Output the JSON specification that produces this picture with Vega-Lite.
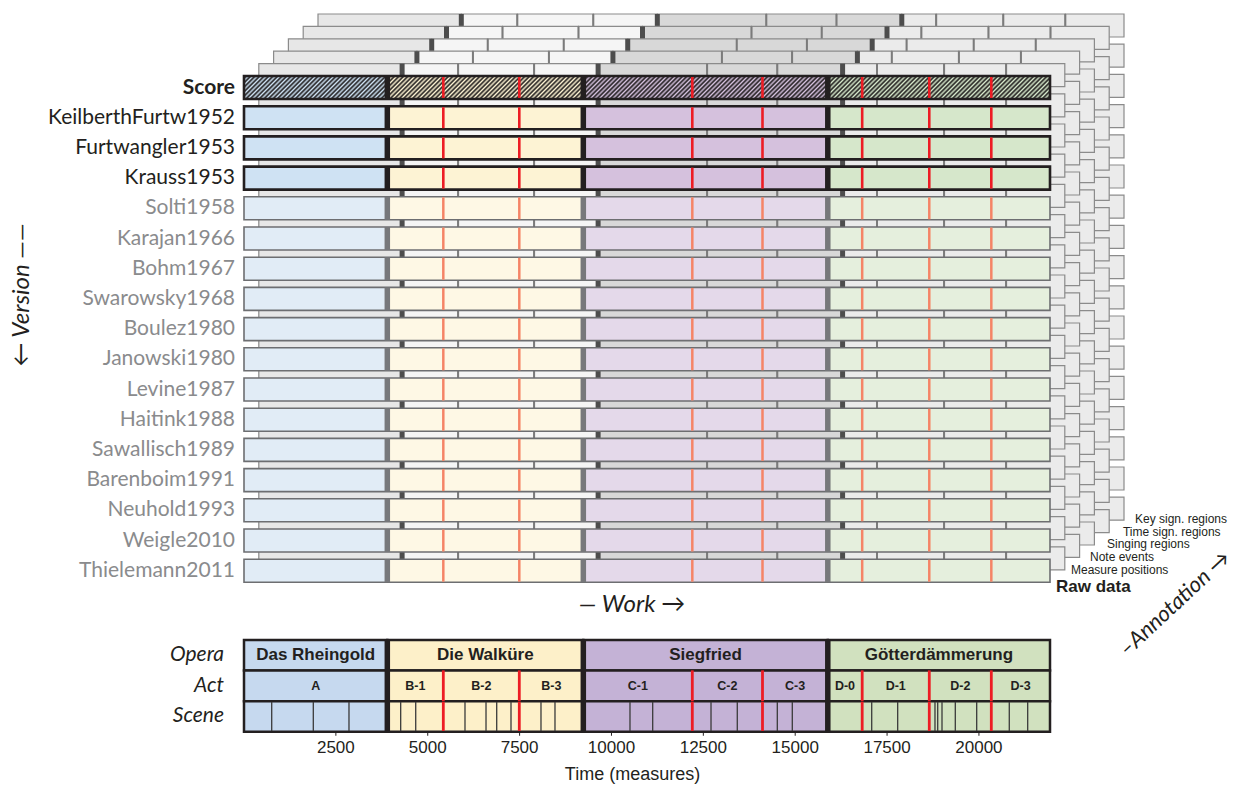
{
"$schema": "https://vega.github.io/schema/vega-lite/v6.json",
"autosize": "none",
"padding": {"left": 244, "top": 0, "right": 187, "bottom": 55.3},
"width": 806,
"height": 731.7,
"background": "white",
"config": {"view": {"stroke": null}, "axis": {"grid": false}},
"datasets": {
"va": [
{"v":"Score","a":"A","s":0,"e":3900},{"v":"Score","a":"B-1","s":3900,"e":5424},{"v":"Score","a":"B-2","s":5424,"e":7492},{"v":"Score","a":"B-3","s":7492,"e":9234},{"v":"Score","a":"C-1","s":9234,"e":12200},{"v":"Score","a":"C-2","s":12200,"e":14110},{"v":"Score","a":"C-3","s":14110,"e":15887},{"v":"Score","a":"D-0","s":15887,"e":16823},{"v":"Score","a":"D-1","s":16823,"e":18649},{"v":"Score","a":"D-2","s":18649,"e":20337},{"v":"Score","a":"D-3","s":20337,"e":21934},
{"v":"KeilberthFurtw1952","a":"A","s":0,"e":3900},{"v":"KeilberthFurtw1952","a":"B-1","s":3900,"e":5424},{"v":"KeilberthFurtw1952","a":"B-2","s":5424,"e":7492},{"v":"KeilberthFurtw1952","a":"B-3","s":7492,"e":9234},{"v":"KeilberthFurtw1952","a":"C-1","s":9234,"e":12200},{"v":"KeilberthFurtw1952","a":"C-2","s":12200,"e":14110},{"v":"KeilberthFurtw1952","a":"C-3","s":14110,"e":15887},{"v":"KeilberthFurtw1952","a":"D-0","s":15887,"e":16823},{"v":"KeilberthFurtw1952","a":"D-1","s":16823,"e":18649},{"v":"KeilberthFurtw1952","a":"D-2","s":18649,"e":20337},{"v":"KeilberthFurtw1952","a":"D-3","s":20337,"e":21934},
{"v":"Furtwangler1953","a":"A","s":0,"e":3900},{"v":"Furtwangler1953","a":"B-1","s":3900,"e":5424},{"v":"Furtwangler1953","a":"B-2","s":5424,"e":7492},{"v":"Furtwangler1953","a":"B-3","s":7492,"e":9234},{"v":"Furtwangler1953","a":"C-1","s":9234,"e":12200},{"v":"Furtwangler1953","a":"C-2","s":12200,"e":14110},{"v":"Furtwangler1953","a":"C-3","s":14110,"e":15887},{"v":"Furtwangler1953","a":"D-0","s":15887,"e":16823},{"v":"Furtwangler1953","a":"D-1","s":16823,"e":18649},{"v":"Furtwangler1953","a":"D-2","s":18649,"e":20337},{"v":"Furtwangler1953","a":"D-3","s":20337,"e":21934},
{"v":"Krauss1953","a":"A","s":0,"e":3900},{"v":"Krauss1953","a":"B-1","s":3900,"e":5424},{"v":"Krauss1953","a":"B-2","s":5424,"e":7492},{"v":"Krauss1953","a":"B-3","s":7492,"e":9234},{"v":"Krauss1953","a":"C-1","s":9234,"e":12200},{"v":"Krauss1953","a":"C-2","s":12200,"e":14110},{"v":"Krauss1953","a":"C-3","s":14110,"e":15887},{"v":"Krauss1953","a":"D-0","s":15887,"e":16823},{"v":"Krauss1953","a":"D-1","s":16823,"e":18649},{"v":"Krauss1953","a":"D-2","s":18649,"e":20337},{"v":"Krauss1953","a":"D-3","s":20337,"e":21934},
{"v":"Solti1958","a":"A","s":0,"e":3900},{"v":"Solti1958","a":"B-1","s":3900,"e":5424},{"v":"Solti1958","a":"B-2","s":5424,"e":7492},{"v":"Solti1958","a":"B-3","s":7492,"e":9234},{"v":"Solti1958","a":"C-1","s":9234,"e":12200},{"v":"Solti1958","a":"C-2","s":12200,"e":14110},{"v":"Solti1958","a":"C-3","s":14110,"e":15887},{"v":"Solti1958","a":"D-0","s":15887,"e":16823},{"v":"Solti1958","a":"D-1","s":16823,"e":18649},{"v":"Solti1958","a":"D-2","s":18649,"e":20337},{"v":"Solti1958","a":"D-3","s":20337,"e":21934},
{"v":"Karajan1966","a":"A","s":0,"e":3900},{"v":"Karajan1966","a":"B-1","s":3900,"e":5424},{"v":"Karajan1966","a":"B-2","s":5424,"e":7492},{"v":"Karajan1966","a":"B-3","s":7492,"e":9234},{"v":"Karajan1966","a":"C-1","s":9234,"e":12200},{"v":"Karajan1966","a":"C-2","s":12200,"e":14110},{"v":"Karajan1966","a":"C-3","s":14110,"e":15887},{"v":"Karajan1966","a":"D-0","s":15887,"e":16823},{"v":"Karajan1966","a":"D-1","s":16823,"e":18649},{"v":"Karajan1966","a":"D-2","s":18649,"e":20337},{"v":"Karajan1966","a":"D-3","s":20337,"e":21934},
{"v":"Bohm1967","a":"A","s":0,"e":3900},{"v":"Bohm1967","a":"B-1","s":3900,"e":5424},{"v":"Bohm1967","a":"B-2","s":5424,"e":7492},{"v":"Bohm1967","a":"B-3","s":7492,"e":9234},{"v":"Bohm1967","a":"C-1","s":9234,"e":12200},{"v":"Bohm1967","a":"C-2","s":12200,"e":14110},{"v":"Bohm1967","a":"C-3","s":14110,"e":15887},{"v":"Bohm1967","a":"D-0","s":15887,"e":16823},{"v":"Bohm1967","a":"D-1","s":16823,"e":18649},{"v":"Bohm1967","a":"D-2","s":18649,"e":20337},{"v":"Bohm1967","a":"D-3","s":20337,"e":21934},
{"v":"Swarowsky1968","a":"A","s":0,"e":3900},{"v":"Swarowsky1968","a":"B-1","s":3900,"e":5424},{"v":"Swarowsky1968","a":"B-2","s":5424,"e":7492},{"v":"Swarowsky1968","a":"B-3","s":7492,"e":9234},{"v":"Swarowsky1968","a":"C-1","s":9234,"e":12200},{"v":"Swarowsky1968","a":"C-2","s":12200,"e":14110},{"v":"Swarowsky1968","a":"C-3","s":14110,"e":15887},{"v":"Swarowsky1968","a":"D-0","s":15887,"e":16823},{"v":"Swarowsky1968","a":"D-1","s":16823,"e":18649},{"v":"Swarowsky1968","a":"D-2","s":18649,"e":20337},{"v":"Swarowsky1968","a":"D-3","s":20337,"e":21934},
{"v":"Boulez1980","a":"A","s":0,"e":3900},{"v":"Boulez1980","a":"B-1","s":3900,"e":5424},{"v":"Boulez1980","a":"B-2","s":5424,"e":7492},{"v":"Boulez1980","a":"B-3","s":7492,"e":9234},{"v":"Boulez1980","a":"C-1","s":9234,"e":12200},{"v":"Boulez1980","a":"C-2","s":12200,"e":14110},{"v":"Boulez1980","a":"C-3","s":14110,"e":15887},{"v":"Boulez1980","a":"D-0","s":15887,"e":16823},{"v":"Boulez1980","a":"D-1","s":16823,"e":18649},{"v":"Boulez1980","a":"D-2","s":18649,"e":20337},{"v":"Boulez1980","a":"D-3","s":20337,"e":21934},
{"v":"Janowski1980","a":"A","s":0,"e":3900},{"v":"Janowski1980","a":"B-1","s":3900,"e":5424},{"v":"Janowski1980","a":"B-2","s":5424,"e":7492},{"v":"Janowski1980","a":"B-3","s":7492,"e":9234},{"v":"Janowski1980","a":"C-1","s":9234,"e":12200},{"v":"Janowski1980","a":"C-2","s":12200,"e":14110},{"v":"Janowski1980","a":"C-3","s":14110,"e":15887},{"v":"Janowski1980","a":"D-0","s":15887,"e":16823},{"v":"Janowski1980","a":"D-1","s":16823,"e":18649},{"v":"Janowski1980","a":"D-2","s":18649,"e":20337},{"v":"Janowski1980","a":"D-3","s":20337,"e":21934},
{"v":"Levine1987","a":"A","s":0,"e":3900},{"v":"Levine1987","a":"B-1","s":3900,"e":5424},{"v":"Levine1987","a":"B-2","s":5424,"e":7492},{"v":"Levine1987","a":"B-3","s":7492,"e":9234},{"v":"Levine1987","a":"C-1","s":9234,"e":12200},{"v":"Levine1987","a":"C-2","s":12200,"e":14110},{"v":"Levine1987","a":"C-3","s":14110,"e":15887},{"v":"Levine1987","a":"D-0","s":15887,"e":16823},{"v":"Levine1987","a":"D-1","s":16823,"e":18649},{"v":"Levine1987","a":"D-2","s":18649,"e":20337},{"v":"Levine1987","a":"D-3","s":20337,"e":21934},
{"v":"Haitink1988","a":"A","s":0,"e":3900},{"v":"Haitink1988","a":"B-1","s":3900,"e":5424},{"v":"Haitink1988","a":"B-2","s":5424,"e":7492},{"v":"Haitink1988","a":"B-3","s":7492,"e":9234},{"v":"Haitink1988","a":"C-1","s":9234,"e":12200},{"v":"Haitink1988","a":"C-2","s":12200,"e":14110},{"v":"Haitink1988","a":"C-3","s":14110,"e":15887},{"v":"Haitink1988","a":"D-0","s":15887,"e":16823},{"v":"Haitink1988","a":"D-1","s":16823,"e":18649},{"v":"Haitink1988","a":"D-2","s":18649,"e":20337},{"v":"Haitink1988","a":"D-3","s":20337,"e":21934},
{"v":"Sawallisch1989","a":"A","s":0,"e":3900},{"v":"Sawallisch1989","a":"B-1","s":3900,"e":5424},{"v":"Sawallisch1989","a":"B-2","s":5424,"e":7492},{"v":"Sawallisch1989","a":"B-3","s":7492,"e":9234},{"v":"Sawallisch1989","a":"C-1","s":9234,"e":12200},{"v":"Sawallisch1989","a":"C-2","s":12200,"e":14110},{"v":"Sawallisch1989","a":"C-3","s":14110,"e":15887},{"v":"Sawallisch1989","a":"D-0","s":15887,"e":16823},{"v":"Sawallisch1989","a":"D-1","s":16823,"e":18649},{"v":"Sawallisch1989","a":"D-2","s":18649,"e":20337},{"v":"Sawallisch1989","a":"D-3","s":20337,"e":21934},
{"v":"Barenboim1991","a":"A","s":0,"e":3900},{"v":"Barenboim1991","a":"B-1","s":3900,"e":5424},{"v":"Barenboim1991","a":"B-2","s":5424,"e":7492},{"v":"Barenboim1991","a":"B-3","s":7492,"e":9234},{"v":"Barenboim1991","a":"C-1","s":9234,"e":12200},{"v":"Barenboim1991","a":"C-2","s":12200,"e":14110},{"v":"Barenboim1991","a":"C-3","s":14110,"e":15887},{"v":"Barenboim1991","a":"D-0","s":15887,"e":16823},{"v":"Barenboim1991","a":"D-1","s":16823,"e":18649},{"v":"Barenboim1991","a":"D-2","s":18649,"e":20337},{"v":"Barenboim1991","a":"D-3","s":20337,"e":21934},
{"v":"Neuhold1993","a":"A","s":0,"e":3900},{"v":"Neuhold1993","a":"B-1","s":3900,"e":5424},{"v":"Neuhold1993","a":"B-2","s":5424,"e":7492},{"v":"Neuhold1993","a":"B-3","s":7492,"e":9234},{"v":"Neuhold1993","a":"C-1","s":9234,"e":12200},{"v":"Neuhold1993","a":"C-2","s":12200,"e":14110},{"v":"Neuhold1993","a":"C-3","s":14110,"e":15887},{"v":"Neuhold1993","a":"D-0","s":15887,"e":16823},{"v":"Neuhold1993","a":"D-1","s":16823,"e":18649},{"v":"Neuhold1993","a":"D-2","s":18649,"e":20337},{"v":"Neuhold1993","a":"D-3","s":20337,"e":21934},
{"v":"Weigle2010","a":"A","s":0,"e":3900},{"v":"Weigle2010","a":"B-1","s":3900,"e":5424},{"v":"Weigle2010","a":"B-2","s":5424,"e":7492},{"v":"Weigle2010","a":"B-3","s":7492,"e":9234},{"v":"Weigle2010","a":"C-1","s":9234,"e":12200},{"v":"Weigle2010","a":"C-2","s":12200,"e":14110},{"v":"Weigle2010","a":"C-3","s":14110,"e":15887},{"v":"Weigle2010","a":"D-0","s":15887,"e":16823},{"v":"Weigle2010","a":"D-1","s":16823,"e":18649},{"v":"Weigle2010","a":"D-2","s":18649,"e":20337},{"v":"Weigle2010","a":"D-3","s":20337,"e":21934},
{"v":"Thielemann2011","a":"A","s":0,"e":3900},{"v":"Thielemann2011","a":"B-1","s":3900,"e":5424},{"v":"Thielemann2011","a":"B-2","s":5424,"e":7492},{"v":"Thielemann2011","a":"B-3","s":7492,"e":9234},{"v":"Thielemann2011","a":"C-1","s":9234,"e":12200},{"v":"Thielemann2011","a":"C-2","s":12200,"e":14110},{"v":"Thielemann2011","a":"C-3","s":14110,"e":15887},{"v":"Thielemann2011","a":"D-0","s":15887,"e":16823},{"v":"Thielemann2011","a":"D-1","s":16823,"e":18649},{"v":"Thielemann2011","a":"D-2","s":18649,"e":20337},{"v":"Thielemann2011","a":"D-3","s":20337,"e":21934}
],
"operas": [{"o":"R","name":"Das Rheingold","s":0,"e":3900},{"o":"W","name":"Die Walküre","s":3900,"e":9234},{"o":"S","name":"Siegfried","s":9234,"e":15887},{"o":"G","name":"Götterdämmerung","s":15887,"e":21934}],
"acts": [{"a":"A","s":0,"e":3900},{"a":"B-1","s":3900,"e":5424},{"a":"B-2","s":5424,"e":7492},{"a":"B-3","s":7492,"e":9234},{"a":"C-1","s":9234,"e":12200},{"a":"C-2","s":12200,"e":14110},{"a":"C-3","s":14110,"e":15887},{"a":"D-0","s":15887,"e":16823},{"a":"D-1","s":16823,"e":18649},{"a":"D-2","s":18649,"e":20337},{"a":"D-3","s":20337,"e":21934}],
"scenes": [{"s":754},{"s":1886},{"s":2857},{"s":4264},{"s":4673},{"s":6014},{"s":6586},{"s":6877},{"s":7266},{"s":8082},{"s":8463},{"s":10504},{"s":11122},{"s":12709},{"s":13424},{"s":14513},{"s":14921},{"s":17082},{"s":17789},{"s":18804},{"s":18878},{"s":18995},{"s":19357},{"s":19939},{"s":20826},{"s":21327}],
"actlines": [{"s":5424},{"s":7492},{"s":12200},{"s":14110},{"s":16823},{"s":18649},{"s":20337}],
"xticks": [{"s":2500},{"s":5000},{"s":7500},{"s":10000},{"s":12500},{"s":15000},{"s":17500},{"s":20000}]
},
"data": {"name": "va"},
"encoding": {"x": {"field": "s", "type": "quantitative", "scale": {"domain": [0, 21934], "nice": false, "zero": false}, "axis": null}},
"resolve": {"scale": {"y": "independent"}},
"layer": [
{"mark": {"type": "rect", "xOffset": 74, "x2Offset": 74, "yOffset": -62, "y2Offset": -62, "stroke": "#8b8b8b", "strokeWidth": 1.2, "opacity": 1}, "encoding": {"y": {"field": "v", "type": "nominal", "scale": {"domain": ["Score","KeilberthFurtw1952","Furtwangler1953","Krauss1953","Solti1958","Karajan1966","Bohm1967","Swarowsky1968","Boulez1980","Janowski1980","Levine1987","Haitink1988","Sawallisch1989","Barenboim1991","Neuhold1993","Weigle2010","Thielemann2011"], "range": [72.4, 585.8], "paddingInner": 0.24, "paddingOuter": 0.12}, "axis": null}, "x2": {"field": "e"}, "fill": {"condition": [{"test": "datum.a=='A'", "value": "#e7e7e7"}, {"test": "indexof(datum.a,'B')==0", "value": "#f5f5f5"}, {"test": "indexof(datum.a,'C')==0", "value": "#d8d8d8"}], "value": "#ebebeb"}}},
{"transform": [{"filter": {"field": "a", "oneOf": ["B-1","C-1","D-0"]}}], "mark": {"type": "tick", "xOffset": 74, "yOffset": -62, "color": "#4d4d4d", "thickness": 5, "size": 23, "opacity": 1}, "encoding": {"y": {"field": "v", "type": "nominal", "scale": {"domain": ["Score","KeilberthFurtw1952","Furtwangler1953","Krauss1953","Solti1958","Karajan1966","Bohm1967","Swarowsky1968","Boulez1980","Janowski1980","Levine1987","Haitink1988","Sawallisch1989","Barenboim1991","Neuhold1993","Weigle2010","Thielemann2011"], "range": [72.4, 585.8], "paddingInner": 0.24, "paddingOuter": 0.12}, "axis": null}}},
{"transform": [{"filter": {"field": "a", "oneOf": ["B-2","B-3","C-2","C-3","D-1","D-2","D-3"]}}], "mark": {"type": "tick", "xOffset": 74, "yOffset": -62, "color": "#7b7b7b", "thickness": 2, "size": 23, "opacity": 1}, "encoding": {"y": {"field": "v", "type": "nominal", "scale": {"domain": ["Score","KeilberthFurtw1952","Furtwangler1953","Krauss1953","Solti1958","Karajan1966","Bohm1967","Swarowsky1968","Boulez1980","Janowski1980","Levine1987","Haitink1988","Sawallisch1989","Barenboim1991","Neuhold1993","Weigle2010","Thielemann2011"], "range": [72.4, 585.8], "paddingInner": 0.24, "paddingOuter": 0.12}, "axis": null}}},
{"mark": {"type": "rect", "xOffset": 59.2, "x2Offset": 59.2, "yOffset": -49.6, "y2Offset": -49.6, "stroke": "#8b8b8b", "strokeWidth": 1.2, "opacity": 1}, "encoding": {"y": {"field": "v", "type": "nominal", "scale": {"domain": ["Score","KeilberthFurtw1952","Furtwangler1953","Krauss1953","Solti1958","Karajan1966","Bohm1967","Swarowsky1968","Boulez1980","Janowski1980","Levine1987","Haitink1988","Sawallisch1989","Barenboim1991","Neuhold1993","Weigle2010","Thielemann2011"], "range": [72.4, 585.8], "paddingInner": 0.24, "paddingOuter": 0.12}, "axis": null}, "x2": {"field": "e"}, "fill": {"condition": [{"test": "datum.a=='A'", "value": "#e7e7e7"}, {"test": "indexof(datum.a,'B')==0", "value": "#f5f5f5"}, {"test": "indexof(datum.a,'C')==0", "value": "#d8d8d8"}], "value": "#ebebeb"}}},
{"transform": [{"filter": {"field": "a", "oneOf": ["B-1","C-1","D-0"]}}], "mark": {"type": "tick", "xOffset": 59.2, "yOffset": -49.6, "color": "#4d4d4d", "thickness": 5, "size": 23, "opacity": 1}, "encoding": {"y": {"field": "v", "type": "nominal", "scale": {"domain": ["Score","KeilberthFurtw1952","Furtwangler1953","Krauss1953","Solti1958","Karajan1966","Bohm1967","Swarowsky1968","Boulez1980","Janowski1980","Levine1987","Haitink1988","Sawallisch1989","Barenboim1991","Neuhold1993","Weigle2010","Thielemann2011"], "range": [72.4, 585.8], "paddingInner": 0.24, "paddingOuter": 0.12}, "axis": null}}},
{"transform": [{"filter": {"field": "a", "oneOf": ["B-2","B-3","C-2","C-3","D-1","D-2","D-3"]}}], "mark": {"type": "tick", "xOffset": 59.2, "yOffset": -49.6, "color": "#7b7b7b", "thickness": 2, "size": 23, "opacity": 1}, "encoding": {"y": {"field": "v", "type": "nominal", "scale": {"domain": ["Score","KeilberthFurtw1952","Furtwangler1953","Krauss1953","Solti1958","Karajan1966","Bohm1967","Swarowsky1968","Boulez1980","Janowski1980","Levine1987","Haitink1988","Sawallisch1989","Barenboim1991","Neuhold1993","Weigle2010","Thielemann2011"], "range": [72.4, 585.8], "paddingInner": 0.24, "paddingOuter": 0.12}, "axis": null}}},
{"mark": {"type": "rect", "xOffset": 44.4, "x2Offset": 44.4, "yOffset": -37.2, "y2Offset": -37.2, "stroke": "#8b8b8b", "strokeWidth": 1.2, "opacity": 1}, "encoding": {"y": {"field": "v", "type": "nominal", "scale": {"domain": ["Score","KeilberthFurtw1952","Furtwangler1953","Krauss1953","Solti1958","Karajan1966","Bohm1967","Swarowsky1968","Boulez1980","Janowski1980","Levine1987","Haitink1988","Sawallisch1989","Barenboim1991","Neuhold1993","Weigle2010","Thielemann2011"], "range": [72.4, 585.8], "paddingInner": 0.24, "paddingOuter": 0.12}, "axis": null}, "x2": {"field": "e"}, "fill": {"condition": [{"test": "datum.a=='A'", "value": "#e7e7e7"}, {"test": "indexof(datum.a,'B')==0", "value": "#f5f5f5"}, {"test": "indexof(datum.a,'C')==0", "value": "#d8d8d8"}], "value": "#ebebeb"}}},
{"transform": [{"filter": {"field": "a", "oneOf": ["B-1","C-1","D-0"]}}], "mark": {"type": "tick", "xOffset": 44.4, "yOffset": -37.2, "color": "#4d4d4d", "thickness": 5, "size": 23, "opacity": 1}, "encoding": {"y": {"field": "v", "type": "nominal", "scale": {"domain": ["Score","KeilberthFurtw1952","Furtwangler1953","Krauss1953","Solti1958","Karajan1966","Bohm1967","Swarowsky1968","Boulez1980","Janowski1980","Levine1987","Haitink1988","Sawallisch1989","Barenboim1991","Neuhold1993","Weigle2010","Thielemann2011"], "range": [72.4, 585.8], "paddingInner": 0.24, "paddingOuter": 0.12}, "axis": null}}},
{"transform": [{"filter": {"field": "a", "oneOf": ["B-2","B-3","C-2","C-3","D-1","D-2","D-3"]}}], "mark": {"type": "tick", "xOffset": 44.4, "yOffset": -37.2, "color": "#7b7b7b", "thickness": 2, "size": 23, "opacity": 1}, "encoding": {"y": {"field": "v", "type": "nominal", "scale": {"domain": ["Score","KeilberthFurtw1952","Furtwangler1953","Krauss1953","Solti1958","Karajan1966","Bohm1967","Swarowsky1968","Boulez1980","Janowski1980","Levine1987","Haitink1988","Sawallisch1989","Barenboim1991","Neuhold1993","Weigle2010","Thielemann2011"], "range": [72.4, 585.8], "paddingInner": 0.24, "paddingOuter": 0.12}, "axis": null}}},
{"mark": {"type": "rect", "xOffset": 29.6, "x2Offset": 29.6, "yOffset": -24.8, "y2Offset": -24.8, "stroke": "#8b8b8b", "strokeWidth": 1.2, "opacity": 1}, "encoding": {"y": {"field": "v", "type": "nominal", "scale": {"domain": ["Score","KeilberthFurtw1952","Furtwangler1953","Krauss1953","Solti1958","Karajan1966","Bohm1967","Swarowsky1968","Boulez1980","Janowski1980","Levine1987","Haitink1988","Sawallisch1989","Barenboim1991","Neuhold1993","Weigle2010","Thielemann2011"], "range": [72.4, 585.8], "paddingInner": 0.24, "paddingOuter": 0.12}, "axis": null}, "x2": {"field": "e"}, "fill": {"condition": [{"test": "datum.a=='A'", "value": "#e7e7e7"}, {"test": "indexof(datum.a,'B')==0", "value": "#f5f5f5"}, {"test": "indexof(datum.a,'C')==0", "value": "#d8d8d8"}], "value": "#ebebeb"}}},
{"transform": [{"filter": {"field": "a", "oneOf": ["B-1","C-1","D-0"]}}], "mark": {"type": "tick", "xOffset": 29.6, "yOffset": -24.8, "color": "#4d4d4d", "thickness": 5, "size": 23, "opacity": 1}, "encoding": {"y": {"field": "v", "type": "nominal", "scale": {"domain": ["Score","KeilberthFurtw1952","Furtwangler1953","Krauss1953","Solti1958","Karajan1966","Bohm1967","Swarowsky1968","Boulez1980","Janowski1980","Levine1987","Haitink1988","Sawallisch1989","Barenboim1991","Neuhold1993","Weigle2010","Thielemann2011"], "range": [72.4, 585.8], "paddingInner": 0.24, "paddingOuter": 0.12}, "axis": null}}},
{"transform": [{"filter": {"field": "a", "oneOf": ["B-2","B-3","C-2","C-3","D-1","D-2","D-3"]}}], "mark": {"type": "tick", "xOffset": 29.6, "yOffset": -24.8, "color": "#7b7b7b", "thickness": 2, "size": 23, "opacity": 1}, "encoding": {"y": {"field": "v", "type": "nominal", "scale": {"domain": ["Score","KeilberthFurtw1952","Furtwangler1953","Krauss1953","Solti1958","Karajan1966","Bohm1967","Swarowsky1968","Boulez1980","Janowski1980","Levine1987","Haitink1988","Sawallisch1989","Barenboim1991","Neuhold1993","Weigle2010","Thielemann2011"], "range": [72.4, 585.8], "paddingInner": 0.24, "paddingOuter": 0.12}, "axis": null}}},
{"mark": {"type": "rect", "xOffset": 14.8, "x2Offset": 14.8, "yOffset": -12.4, "y2Offset": -12.4, "stroke": "#8b8b8b", "strokeWidth": 1.2, "opacity": 1}, "encoding": {"y": {"field": "v", "type": "nominal", "scale": {"domain": ["Score","KeilberthFurtw1952","Furtwangler1953","Krauss1953","Solti1958","Karajan1966","Bohm1967","Swarowsky1968","Boulez1980","Janowski1980","Levine1987","Haitink1988","Sawallisch1989","Barenboim1991","Neuhold1993","Weigle2010","Thielemann2011"], "range": [72.4, 585.8], "paddingInner": 0.24, "paddingOuter": 0.12}, "axis": null}, "x2": {"field": "e"}, "fill": {"condition": [{"test": "datum.a=='A'", "value": "#e7e7e7"}, {"test": "indexof(datum.a,'B')==0", "value": "#f5f5f5"}, {"test": "indexof(datum.a,'C')==0", "value": "#d8d8d8"}], "value": "#ebebeb"}}},
{"transform": [{"filter": {"field": "a", "oneOf": ["B-1","C-1","D-0"]}}], "mark": {"type": "tick", "xOffset": 14.8, "yOffset": -12.4, "color": "#4d4d4d", "thickness": 5, "size": 23, "opacity": 1}, "encoding": {"y": {"field": "v", "type": "nominal", "scale": {"domain": ["Score","KeilberthFurtw1952","Furtwangler1953","Krauss1953","Solti1958","Karajan1966","Bohm1967","Swarowsky1968","Boulez1980","Janowski1980","Levine1987","Haitink1988","Sawallisch1989","Barenboim1991","Neuhold1993","Weigle2010","Thielemann2011"], "range": [72.4, 585.8], "paddingInner": 0.24, "paddingOuter": 0.12}, "axis": null}}},
{"transform": [{"filter": {"field": "a", "oneOf": ["B-2","B-3","C-2","C-3","D-1","D-2","D-3"]}}], "mark": {"type": "tick", "xOffset": 14.8, "yOffset": -12.4, "color": "#7b7b7b", "thickness": 2, "size": 23, "opacity": 1}, "encoding": {"y": {"field": "v", "type": "nominal", "scale": {"domain": ["Score","KeilberthFurtw1952","Furtwangler1953","Krauss1953","Solti1958","Karajan1966","Bohm1967","Swarowsky1968","Boulez1980","Janowski1980","Levine1987","Haitink1988","Sawallisch1989","Barenboim1991","Neuhold1993","Weigle2010","Thielemann2011"], "range": [72.4, 585.8], "paddingInner": 0.24, "paddingOuter": 0.12}, "axis": null}}},

{"transform": [{"filter": {"not": {"field": "v", "oneOf": ["Score","KeilberthFurtw1952","Furtwangler1953","Krauss1953"]}}}], "mark": {"type": "rect", "opacity": 1}, "encoding": {"y": {"field": "v", "type": "nominal", "scale": {"domain": ["Score","KeilberthFurtw1952","Furtwangler1953","Krauss1953","Solti1958","Karajan1966","Bohm1967","Swarowsky1968","Boulez1980","Janowski1980","Levine1987","Haitink1988","Sawallisch1989","Barenboim1991","Neuhold1993","Weigle2010","Thielemann2011"], "range": [72.4, 585.8], "paddingInner": 0.24, "paddingOuter": 0.12}, "axis": null}, "x2": {"field": "e"}, "fill": {"condition": [{"test": "datum.a=='A'", "value": "#e1ecf6"}, {"test": "indexof(datum.a,'B')==0", "value": "#fef8e5"}, {"test": "indexof(datum.a,'C')==0", "value": "#e4d9ea"}], "value": "#e5efdd"}}},
{"transform": [{"filter": {"not": {"field": "v", "oneOf": ["Score","KeilberthFurtw1952","Furtwangler1953","Krauss1953"]}}}], "mark": {"type": "rect", "fillOpacity": 0, "stroke": "#6d6e71", "strokeWidth": 1.6}, "encoding": {"y": {"field": "v", "type": "nominal", "scale": {"domain": ["Score","KeilberthFurtw1952","Furtwangler1953","Krauss1953","Solti1958","Karajan1966","Bohm1967","Swarowsky1968","Boulez1980","Janowski1980","Levine1987","Haitink1988","Sawallisch1989","Barenboim1991","Neuhold1993","Weigle2010","Thielemann2011"], "range": [72.4, 585.8], "paddingInner": 0.24, "paddingOuter": 0.12}, "axis": null}, "x": {"aggregate": "min", "field": "s", "type": "quantitative", "scale": {"domain": [0, 21934], "nice": false, "zero": false}, "axis": null}, "x2": {"aggregate": "max", "field": "e"}}},
{"transform": [{"filter": {"not": {"field": "v", "oneOf": ["Score","KeilberthFurtw1952","Furtwangler1953","Krauss1953"]}}}, {"filter": {"field": "a", "oneOf": ["B-1","C-1","D-0"]}}], "mark": {"type": "tick", "color": "#77787b", "thickness": 5.5, "size": 23, "opacity": 1}, "encoding": {"y": {"field": "v", "type": "nominal", "scale": {"domain": ["Score","KeilberthFurtw1952","Furtwangler1953","Krauss1953","Solti1958","Karajan1966","Bohm1967","Swarowsky1968","Boulez1980","Janowski1980","Levine1987","Haitink1988","Sawallisch1989","Barenboim1991","Neuhold1993","Weigle2010","Thielemann2011"], "range": [72.4, 585.8], "paddingInner": 0.24, "paddingOuter": 0.12}, "axis": null}}},
{"transform": [{"filter": {"not": {"field": "v", "oneOf": ["Score","KeilberthFurtw1952","Furtwangler1953","Krauss1953"]}}}, {"filter": {"field": "a", "oneOf": ["B-2","B-3","C-2","C-3","D-1","D-2","D-3"]}}], "mark": {"type": "tick", "color": "#f58466", "thickness": 2.5, "size": 22, "opacity": 1}, "encoding": {"y": {"field": "v", "type": "nominal", "scale": {"domain": ["Score","KeilberthFurtw1952","Furtwangler1953","Krauss1953","Solti1958","Karajan1966","Bohm1967","Swarowsky1968","Boulez1980","Janowski1980","Levine1987","Haitink1988","Sawallisch1989","Barenboim1991","Neuhold1993","Weigle2010","Thielemann2011"], "range": [72.4, 585.8], "paddingInner": 0.24, "paddingOuter": 0.12}, "axis": null}}},

{"transform": [{"filter": {"field": "v", "oneOf": ["Score","KeilberthFurtw1952","Furtwangler1953","Krauss1953"]}}], "mark": {"type": "rect", "opacity": 1}, "encoding": {"y": {"field": "v", "type": "nominal", "scale": {"domain": ["Score","KeilberthFurtw1952","Furtwangler1953","Krauss1953","Solti1958","Karajan1966","Bohm1967","Swarowsky1968","Boulez1980","Janowski1980","Levine1987","Haitink1988","Sawallisch1989","Barenboim1991","Neuhold1993","Weigle2010","Thielemann2011"], "range": [72.4, 585.8], "paddingInner": 0.24, "paddingOuter": 0.12}, "axis": null}, "x2": {"field": "e"}, "fill": {"condition": [{"test": "datum.a=='A'", "value": "#cfe2f3"}, {"test": "indexof(datum.a,'B')==0", "value": "#fdf3d4"}, {"test": "indexof(datum.a,'C')==0", "value": "#d5c1dd"}], "value": "#d6e7cb"}}},
{"transform": [{"filter": {"field": "v", "equal": "Score"}}], "mark": {"type": "rect", "opacity": 1, "fill": {"gradient": "linear", "x1": 0, "y1": 0, "x2": 1.1157, "y2": 0.03177, "stops": [
{"offset":0,"color":"transparent"},{"offset":0.0025,"color":"#231f20"},{"offset":0.005,"color":"transparent"},{"offset":0.0075,"color":"#231f20"},
{"offset":0.01,"color":"transparent"},{"offset":0.0125,"color":"#231f20"},{"offset":0.015,"color":"transparent"},{"offset":0.0175,"color":"#231f20"},
{"offset":0.02,"color":"transparent"},{"offset":0.0225,"color":"#231f20"},{"offset":0.025,"color":"transparent"},{"offset":0.0275,"color":"#231f20"},
{"offset":0.03,"color":"transparent"},{"offset":0.0325,"color":"#231f20"},{"offset":0.035,"color":"transparent"},{"offset":0.0375,"color":"#231f20"},
{"offset":0.04,"color":"transparent"},{"offset":0.0425,"color":"#231f20"},{"offset":0.045,"color":"transparent"},{"offset":0.0475,"color":"#231f20"},
{"offset":0.05,"color":"transparent"},{"offset":0.0525,"color":"#231f20"},{"offset":0.055,"color":"transparent"},{"offset":0.0575,"color":"#231f20"},
{"offset":0.06,"color":"transparent"},{"offset":0.0625,"color":"#231f20"},{"offset":0.065,"color":"transparent"},{"offset":0.0675,"color":"#231f20"},
{"offset":0.07,"color":"transparent"},{"offset":0.0725,"color":"#231f20"},{"offset":0.075,"color":"transparent"},{"offset":0.0775,"color":"#231f20"},
{"offset":0.08,"color":"transparent"},{"offset":0.0825,"color":"#231f20"},{"offset":0.085,"color":"transparent"},{"offset":0.0875,"color":"#231f20"},
{"offset":0.09,"color":"transparent"},{"offset":0.0925,"color":"#231f20"},{"offset":0.095,"color":"transparent"},{"offset":0.0975,"color":"#231f20"},
{"offset":0.1,"color":"transparent"},{"offset":0.1025,"color":"#231f20"},{"offset":0.105,"color":"transparent"},{"offset":0.1075,"color":"#231f20"},
{"offset":0.11,"color":"transparent"},{"offset":0.1125,"color":"#231f20"},{"offset":0.115,"color":"transparent"},{"offset":0.1175,"color":"#231f20"},
{"offset":0.12,"color":"transparent"},{"offset":0.1225,"color":"#231f20"},{"offset":0.125,"color":"transparent"},{"offset":0.1275,"color":"#231f20"},
{"offset":0.13,"color":"transparent"},{"offset":0.1325,"color":"#231f20"},{"offset":0.135,"color":"transparent"},{"offset":0.1375,"color":"#231f20"},
{"offset":0.14,"color":"transparent"},{"offset":0.1425,"color":"#231f20"},{"offset":0.145,"color":"transparent"},{"offset":0.1475,"color":"#231f20"},
{"offset":0.15,"color":"transparent"},{"offset":0.1525,"color":"#231f20"},{"offset":0.155,"color":"transparent"},{"offset":0.1575,"color":"#231f20"},
{"offset":0.16,"color":"transparent"},{"offset":0.1625,"color":"#231f20"},{"offset":0.165,"color":"transparent"},{"offset":0.1675,"color":"#231f20"},
{"offset":0.17,"color":"transparent"},{"offset":0.1725,"color":"#231f20"},{"offset":0.175,"color":"transparent"},{"offset":0.1775,"color":"#231f20"},
{"offset":0.18,"color":"transparent"},{"offset":0.1825,"color":"#231f20"},{"offset":0.185,"color":"transparent"},{"offset":0.1875,"color":"#231f20"},
{"offset":0.19,"color":"transparent"},{"offset":0.1925,"color":"#231f20"},{"offset":0.195,"color":"transparent"},{"offset":0.1975,"color":"#231f20"},
{"offset":0.2,"color":"transparent"},{"offset":0.2025,"color":"#231f20"},{"offset":0.205,"color":"transparent"},{"offset":0.2075,"color":"#231f20"},
{"offset":0.21,"color":"transparent"},{"offset":0.2125,"color":"#231f20"},{"offset":0.215,"color":"transparent"},{"offset":0.2175,"color":"#231f20"},
{"offset":0.22,"color":"transparent"},{"offset":0.2225,"color":"#231f20"},{"offset":0.225,"color":"transparent"},{"offset":0.2275,"color":"#231f20"},
{"offset":0.23,"color":"transparent"},{"offset":0.2325,"color":"#231f20"},{"offset":0.235,"color":"transparent"},{"offset":0.2375,"color":"#231f20"},
{"offset":0.24,"color":"transparent"},{"offset":0.2425,"color":"#231f20"},{"offset":0.245,"color":"transparent"},{"offset":0.2475,"color":"#231f20"},
{"offset":0.25,"color":"transparent"},{"offset":0.2525,"color":"#231f20"},{"offset":0.255,"color":"transparent"},{"offset":0.2575,"color":"#231f20"},
{"offset":0.26,"color":"transparent"},{"offset":0.2625,"color":"#231f20"},{"offset":0.265,"color":"transparent"},{"offset":0.2675,"color":"#231f20"},
{"offset":0.27,"color":"transparent"},{"offset":0.2725,"color":"#231f20"},{"offset":0.275,"color":"transparent"},{"offset":0.2775,"color":"#231f20"},
{"offset":0.28,"color":"transparent"},{"offset":0.2825,"color":"#231f20"},{"offset":0.285,"color":"transparent"},{"offset":0.2875,"color":"#231f20"},
{"offset":0.29,"color":"transparent"},{"offset":0.2925,"color":"#231f20"},{"offset":0.295,"color":"transparent"},{"offset":0.2975,"color":"#231f20"},
{"offset":0.3,"color":"transparent"},{"offset":0.3025,"color":"#231f20"},{"offset":0.305,"color":"transparent"},{"offset":0.3075,"color":"#231f20"},
{"offset":0.31,"color":"transparent"},{"offset":0.3125,"color":"#231f20"},{"offset":0.315,"color":"transparent"},{"offset":0.3175,"color":"#231f20"},
{"offset":0.32,"color":"transparent"},{"offset":0.3225,"color":"#231f20"},{"offset":0.325,"color":"transparent"},{"offset":0.3275,"color":"#231f20"},
{"offset":0.33,"color":"transparent"},{"offset":0.3325,"color":"#231f20"},{"offset":0.335,"color":"transparent"},{"offset":0.3375,"color":"#231f20"},
{"offset":0.34,"color":"transparent"},{"offset":0.3425,"color":"#231f20"},{"offset":0.345,"color":"transparent"},{"offset":0.3475,"color":"#231f20"},
{"offset":0.35,"color":"transparent"},{"offset":0.3525,"color":"#231f20"},{"offset":0.355,"color":"transparent"},{"offset":0.3575,"color":"#231f20"},
{"offset":0.36,"color":"transparent"},{"offset":0.3625,"color":"#231f20"},{"offset":0.365,"color":"transparent"},{"offset":0.3675,"color":"#231f20"},
{"offset":0.37,"color":"transparent"},{"offset":0.3725,"color":"#231f20"},{"offset":0.375,"color":"transparent"},{"offset":0.3775,"color":"#231f20"},
{"offset":0.38,"color":"transparent"},{"offset":0.3825,"color":"#231f20"},{"offset":0.385,"color":"transparent"},{"offset":0.3875,"color":"#231f20"},
{"offset":0.39,"color":"transparent"},{"offset":0.3925,"color":"#231f20"},{"offset":0.395,"color":"transparent"},{"offset":0.3975,"color":"#231f20"},
{"offset":0.4,"color":"transparent"},{"offset":0.4025,"color":"#231f20"},{"offset":0.405,"color":"transparent"},{"offset":0.4075,"color":"#231f20"},
{"offset":0.41,"color":"transparent"},{"offset":0.4125,"color":"#231f20"},{"offset":0.415,"color":"transparent"},{"offset":0.4175,"color":"#231f20"},
{"offset":0.42,"color":"transparent"},{"offset":0.4225,"color":"#231f20"},{"offset":0.425,"color":"transparent"},{"offset":0.4275,"color":"#231f20"},
{"offset":0.43,"color":"transparent"},{"offset":0.4325,"color":"#231f20"},{"offset":0.435,"color":"transparent"},{"offset":0.4375,"color":"#231f20"},
{"offset":0.44,"color":"transparent"},{"offset":0.4425,"color":"#231f20"},{"offset":0.445,"color":"transparent"},{"offset":0.4475,"color":"#231f20"},
{"offset":0.45,"color":"transparent"},{"offset":0.4525,"color":"#231f20"},{"offset":0.455,"color":"transparent"},{"offset":0.4575,"color":"#231f20"},
{"offset":0.46,"color":"transparent"},{"offset":0.4625,"color":"#231f20"},{"offset":0.465,"color":"transparent"},{"offset":0.4675,"color":"#231f20"},
{"offset":0.47,"color":"transparent"},{"offset":0.4725,"color":"#231f20"},{"offset":0.475,"color":"transparent"},{"offset":0.4775,"color":"#231f20"},
{"offset":0.48,"color":"transparent"},{"offset":0.4825,"color":"#231f20"},{"offset":0.485,"color":"transparent"},{"offset":0.4875,"color":"#231f20"},
{"offset":0.49,"color":"transparent"},{"offset":0.4925,"color":"#231f20"},{"offset":0.495,"color":"transparent"},{"offset":0.4975,"color":"#231f20"},
{"offset":0.5,"color":"transparent"},{"offset":0.5025,"color":"#231f20"},{"offset":0.505,"color":"transparent"},{"offset":0.5075,"color":"#231f20"},
{"offset":0.51,"color":"transparent"},{"offset":0.5125,"color":"#231f20"},{"offset":0.515,"color":"transparent"},{"offset":0.5175,"color":"#231f20"},
{"offset":0.52,"color":"transparent"},{"offset":0.5225,"color":"#231f20"},{"offset":0.525,"color":"transparent"},{"offset":0.5275,"color":"#231f20"},
{"offset":0.53,"color":"transparent"},{"offset":0.5325,"color":"#231f20"},{"offset":0.535,"color":"transparent"},{"offset":0.5375,"color":"#231f20"},
{"offset":0.54,"color":"transparent"},{"offset":0.5425,"color":"#231f20"},{"offset":0.545,"color":"transparent"},{"offset":0.5475,"color":"#231f20"},
{"offset":0.55,"color":"transparent"},{"offset":0.5525,"color":"#231f20"},{"offset":0.555,"color":"transparent"},{"offset":0.5575,"color":"#231f20"},
{"offset":0.56,"color":"transparent"},{"offset":0.5625,"color":"#231f20"},{"offset":0.565,"color":"transparent"},{"offset":0.5675,"color":"#231f20"},
{"offset":0.57,"color":"transparent"},{"offset":0.5725,"color":"#231f20"},{"offset":0.575,"color":"transparent"},{"offset":0.5775,"color":"#231f20"},
{"offset":0.58,"color":"transparent"},{"offset":0.5825,"color":"#231f20"},{"offset":0.585,"color":"transparent"},{"offset":0.5875,"color":"#231f20"},
{"offset":0.59,"color":"transparent"},{"offset":0.5925,"color":"#231f20"},{"offset":0.595,"color":"transparent"},{"offset":0.5975,"color":"#231f20"},
{"offset":0.6,"color":"transparent"},{"offset":0.6025,"color":"#231f20"},{"offset":0.605,"color":"transparent"},{"offset":0.6075,"color":"#231f20"},
{"offset":0.61,"color":"transparent"},{"offset":0.6125,"color":"#231f20"},{"offset":0.615,"color":"transparent"},{"offset":0.6175,"color":"#231f20"},
{"offset":0.62,"color":"transparent"},{"offset":0.6225,"color":"#231f20"},{"offset":0.625,"color":"transparent"},{"offset":0.6275,"color":"#231f20"},
{"offset":0.63,"color":"transparent"},{"offset":0.6325,"color":"#231f20"},{"offset":0.635,"color":"transparent"},{"offset":0.6375,"color":"#231f20"},
{"offset":0.64,"color":"transparent"},{"offset":0.6425,"color":"#231f20"},{"offset":0.645,"color":"transparent"},{"offset":0.6475,"color":"#231f20"},
{"offset":0.65,"color":"transparent"},{"offset":0.6525,"color":"#231f20"},{"offset":0.655,"color":"transparent"},{"offset":0.6575,"color":"#231f20"},
{"offset":0.66,"color":"transparent"},{"offset":0.6625,"color":"#231f20"},{"offset":0.665,"color":"transparent"},{"offset":0.6675,"color":"#231f20"},
{"offset":0.67,"color":"transparent"},{"offset":0.6725,"color":"#231f20"},{"offset":0.675,"color":"transparent"},{"offset":0.6775,"color":"#231f20"},
{"offset":0.68,"color":"transparent"},{"offset":0.6825,"color":"#231f20"},{"offset":0.685,"color":"transparent"},{"offset":0.6875,"color":"#231f20"},
{"offset":0.69,"color":"transparent"},{"offset":0.6925,"color":"#231f20"},{"offset":0.695,"color":"transparent"},{"offset":0.6975,"color":"#231f20"},
{"offset":0.7,"color":"transparent"},{"offset":0.7025,"color":"#231f20"},{"offset":0.705,"color":"transparent"},{"offset":0.7075,"color":"#231f20"},
{"offset":0.71,"color":"transparent"},{"offset":0.7125,"color":"#231f20"},{"offset":0.715,"color":"transparent"},{"offset":0.7175,"color":"#231f20"},
{"offset":0.72,"color":"transparent"},{"offset":0.7225,"color":"#231f20"},{"offset":0.725,"color":"transparent"},{"offset":0.7275,"color":"#231f20"},
{"offset":0.73,"color":"transparent"},{"offset":0.7325,"color":"#231f20"},{"offset":0.735,"color":"transparent"},{"offset":0.7375,"color":"#231f20"},
{"offset":0.74,"color":"transparent"},{"offset":0.7425,"color":"#231f20"},{"offset":0.745,"color":"transparent"},{"offset":0.7475,"color":"#231f20"},
{"offset":0.75,"color":"transparent"},{"offset":0.7525,"color":"#231f20"},{"offset":0.755,"color":"transparent"},{"offset":0.7575,"color":"#231f20"},
{"offset":0.76,"color":"transparent"},{"offset":0.7625,"color":"#231f20"},{"offset":0.765,"color":"transparent"},{"offset":0.7675,"color":"#231f20"},
{"offset":0.77,"color":"transparent"},{"offset":0.7725,"color":"#231f20"},{"offset":0.775,"color":"transparent"},{"offset":0.7775,"color":"#231f20"},
{"offset":0.78,"color":"transparent"},{"offset":0.7825,"color":"#231f20"},{"offset":0.785,"color":"transparent"},{"offset":0.7875,"color":"#231f20"},
{"offset":0.79,"color":"transparent"},{"offset":0.7925,"color":"#231f20"},{"offset":0.795,"color":"transparent"},{"offset":0.7975,"color":"#231f20"},
{"offset":0.8,"color":"transparent"},{"offset":0.8025,"color":"#231f20"},{"offset":0.805,"color":"transparent"},{"offset":0.8075,"color":"#231f20"},
{"offset":0.81,"color":"transparent"},{"offset":0.8125,"color":"#231f20"},{"offset":0.815,"color":"transparent"},{"offset":0.8175,"color":"#231f20"},
{"offset":0.82,"color":"transparent"},{"offset":0.8225,"color":"#231f20"},{"offset":0.825,"color":"transparent"},{"offset":0.8275,"color":"#231f20"},
{"offset":0.83,"color":"transparent"},{"offset":0.8325,"color":"#231f20"},{"offset":0.835,"color":"transparent"},{"offset":0.8375,"color":"#231f20"},
{"offset":0.84,"color":"transparent"},{"offset":0.8425,"color":"#231f20"},{"offset":0.845,"color":"transparent"},{"offset":0.8475,"color":"#231f20"},
{"offset":0.85,"color":"transparent"},{"offset":0.8525,"color":"#231f20"},{"offset":0.855,"color":"transparent"},{"offset":0.8575,"color":"#231f20"},
{"offset":0.86,"color":"transparent"},{"offset":0.8625,"color":"#231f20"},{"offset":0.865,"color":"transparent"},{"offset":0.8675,"color":"#231f20"},
{"offset":0.87,"color":"transparent"},{"offset":0.8725,"color":"#231f20"},{"offset":0.875,"color":"transparent"},{"offset":0.8775,"color":"#231f20"},
{"offset":0.88,"color":"transparent"},{"offset":0.8825,"color":"#231f20"},{"offset":0.885,"color":"transparent"},{"offset":0.8875,"color":"#231f20"},
{"offset":0.89,"color":"transparent"},{"offset":0.8925,"color":"#231f20"},{"offset":0.895,"color":"transparent"},{"offset":0.8975,"color":"#231f20"},
{"offset":0.9,"color":"transparent"},{"offset":0.9025,"color":"#231f20"},{"offset":0.905,"color":"transparent"},{"offset":0.9075,"color":"#231f20"},
{"offset":0.91,"color":"transparent"},{"offset":0.9125,"color":"#231f20"},{"offset":0.915,"color":"transparent"},{"offset":0.9175,"color":"#231f20"},
{"offset":0.92,"color":"transparent"},{"offset":0.9225,"color":"#231f20"},{"offset":0.925,"color":"transparent"},{"offset":0.9275,"color":"#231f20"},
{"offset":0.93,"color":"transparent"}
]}}, "encoding": {"y": {"field": "v", "type": "nominal", "scale": {"domain": ["Score","KeilberthFurtw1952","Furtwangler1953","Krauss1953","Solti1958","Karajan1966","Bohm1967","Swarowsky1968","Boulez1980","Janowski1980","Levine1987","Haitink1988","Sawallisch1989","Barenboim1991","Neuhold1993","Weigle2010","Thielemann2011"], "range": [72.4, 585.8], "paddingInner": 0.24, "paddingOuter": 0.12}, "axis": null}, "x": {"aggregate": "min", "field": "s", "type": "quantitative", "scale": {"domain": [0, 21934], "nice": false, "zero": false}, "axis": null}, "x2": {"aggregate": "max", "field": "e"}}},
{"transform": [{"filter": {"field": "v", "oneOf": ["Score","KeilberthFurtw1952","Furtwangler1953","Krauss1953"]}}], "mark": {"type": "rect", "fillOpacity": 0, "stroke": "#231f20", "strokeWidth": 2.6}, "encoding": {"y": {"field": "v", "type": "nominal", "scale": {"domain": ["Score","KeilberthFurtw1952","Furtwangler1953","Krauss1953","Solti1958","Karajan1966","Bohm1967","Swarowsky1968","Boulez1980","Janowski1980","Levine1987","Haitink1988","Sawallisch1989","Barenboim1991","Neuhold1993","Weigle2010","Thielemann2011"], "range": [72.4, 585.8], "paddingInner": 0.24, "paddingOuter": 0.12}, "axis": null}, "x": {"aggregate": "min", "field": "s", "type": "quantitative", "scale": {"domain": [0, 21934], "nice": false, "zero": false}, "axis": null}, "x2": {"aggregate": "max", "field": "e"}}},
{"transform": [{"filter": {"field": "v", "oneOf": ["Score","KeilberthFurtw1952","Furtwangler1953","Krauss1953"]}}, {"filter": {"field": "a", "oneOf": ["B-1","C-1","D-0"]}}], "mark": {"type": "tick", "color": "#231f20", "thickness": 5.5, "size": 23, "opacity": 1}, "encoding": {"y": {"field": "v", "type": "nominal", "scale": {"domain": ["Score","KeilberthFurtw1952","Furtwangler1953","Krauss1953","Solti1958","Karajan1966","Bohm1967","Swarowsky1968","Boulez1980","Janowski1980","Levine1987","Haitink1988","Sawallisch1989","Barenboim1991","Neuhold1993","Weigle2010","Thielemann2011"], "range": [72.4, 585.8], "paddingInner": 0.24, "paddingOuter": 0.12}, "axis": null}}},
{"transform": [{"filter": {"field": "v", "oneOf": ["Score","KeilberthFurtw1952","Furtwangler1953","Krauss1953"]}}, {"filter": {"field": "a", "oneOf": ["B-2","B-3","C-2","C-3","D-1","D-2","D-3"]}}], "mark": {"type": "tick", "color": "#ed1c24", "thickness": 2.6, "size": 21, "opacity": 1}, "encoding": {"y": {"field": "v", "type": "nominal", "scale": {"domain": ["Score","KeilberthFurtw1952","Furtwangler1953","Krauss1953","Solti1958","Karajan1966","Bohm1967","Swarowsky1968","Boulez1980","Janowski1980","Levine1987","Haitink1988","Sawallisch1989","Barenboim1991","Neuhold1993","Weigle2010","Thielemann2011"], "range": [72.4, 585.8], "paddingInner": 0.24, "paddingOuter": 0.12}, "axis": null}}},

{"transform": [{"filter": "datum.a == 'A' && datum.v != 'Score'"}], "mark": {"type": "text", "font": "Lato", "fontSize": 21, "align": "right", "baseline": "middle", "dx": -9}, "encoding": {"y": {"field": "v", "type": "nominal", "scale": {"domain": ["Score","KeilberthFurtw1952","Furtwangler1953","Krauss1953","Solti1958","Karajan1966","Bohm1967","Swarowsky1968","Boulez1980","Janowski1980","Levine1987","Haitink1988","Sawallisch1989","Barenboim1991","Neuhold1993","Weigle2010","Thielemann2011"], "range": [72.4, 585.8], "paddingInner": 0.24, "paddingOuter": 0.12}, "axis": null}, "text": {"field": "v"}, "color": {"condition": {"test": "indexof(['KeilberthFurtw1952','Furtwangler1953','Krauss1953'], datum.v) >= 0", "value": "#231f20"}, "value": "#8a8b8d"}}},
{"transform": [{"filter": "datum.a == 'A' && datum.v == 'Score'"}], "mark": {"type": "text", "font": "Lato", "fontSize": 21, "fontWeight": "bold", "color": "#231f20", "align": "right", "baseline": "middle", "dx": -9}, "encoding": {"y": {"field": "v", "type": "nominal", "scale": {"domain": ["Score","KeilberthFurtw1952","Furtwangler1953","Krauss1953","Solti1958","Karajan1966","Bohm1967","Swarowsky1968","Boulez1980","Janowski1980","Levine1987","Haitink1988","Sawallisch1989","Barenboim1991","Neuhold1993","Weigle2010","Thielemann2011"], "range": [72.4, 585.8], "paddingInner": 0.24, "paddingOuter": 0.12}, "axis": null}, "text": {"field": "v"}}},
{"data": {"values": [{"t": "← Version ——", "s": -6041}]}, "mark": {"type": "text", "font": "Lato", "fontStyle": "italic", "fontSize": 24, "color": "#231f20", "align": "center", "baseline": "middle", "angle": 270, "yOffset": -4}, "encoding": {"y": {"datum": "Swarowsky1968", "type": "nominal", "scale": {"domain": ["Score","KeilberthFurtw1952","Furtwangler1953","Krauss1953","Solti1958","Karajan1966","Bohm1967","Swarowsky1968","Boulez1980","Janowski1980","Levine1987","Haitink1988","Sawallisch1989","Barenboim1991","Neuhold1993","Weigle2010","Thielemann2011"], "range": [72.4, 585.8], "paddingInner": 0.24, "paddingOuter": 0.12}, "axis": null}, "text": {"field": "t"}}},
{"data": {"values": [{"t": "— Work →", "s": 10559}]}, "mark": {"type": "text", "font": "Lato", "fontStyle": "italic", "fontSize": 24, "color": "#231f20", "align": "center", "baseline": "middle", "yOffset": 34}, "encoding": {"y": {"datum": "Thielemann2011", "type": "nominal", "scale": {"domain": ["Score","KeilberthFurtw1952","Furtwangler1953","Krauss1953","Solti1958","Karajan1966","Bohm1967","Swarowsky1968","Boulez1980","Janowski1980","Levine1987","Haitink1988","Sawallisch1989","Barenboim1991","Neuhold1993","Weigle2010","Thielemann2011"], "range": [72.4, 585.8], "paddingInner": 0.24, "paddingOuter": 0.12}, "axis": null}, "text": {"field": "t"}}},
{"data": {"values": [{"t": "–Annotation →", "s": 25330}]}, "mark": {"type": "text", "font": "Lato", "fontStyle": "italic", "fontSize": 22, "color": "#231f20", "align": "center", "baseline": "middle", "yOffset": 33, "angle": 317}, "encoding": {"y": {"datum": "Thielemann2011", "type": "nominal", "scale": {"domain": ["Score","KeilberthFurtw1952","Furtwangler1953","Krauss1953","Solti1958","Karajan1966","Bohm1967","Swarowsky1968","Boulez1980","Janowski1980","Levine1987","Haitink1988","Sawallisch1989","Barenboim1991","Neuhold1993","Weigle2010","Thielemann2011"], "range": [72.4, 585.8], "paddingInner": 0.24, "paddingOuter": 0.12}, "axis": null}, "text": {"field": "t"}}},
{"data": {"values": [{"t": "Raw data", "s": 22097}]}, "mark": {"type": "text", "font": "Liberation Sans", "fontWeight": "bold", "fontSize": 17, "color": "#231f20", "align": "left", "baseline": "middle", "yOffset": 16}, "encoding": {"y": {"datum": "Thielemann2011", "type": "nominal", "scale": {"domain": ["Score","KeilberthFurtw1952","Furtwangler1953","Krauss1953","Solti1958","Karajan1966","Bohm1967","Swarowsky1968","Boulez1980","Janowski1980","Levine1987","Haitink1988","Sawallisch1989","Barenboim1991","Neuhold1993","Weigle2010","Thielemann2011"], "range": [72.4, 585.8], "paddingInner": 0.24, "paddingOuter": 0.12}, "axis": null}, "text": {"field": "t"}}},
{"data": {"values": [{"t": "Measure positions", "s": 22505}]}, "mark": {"type": "text", "font": "Liberation Sans", "fontSize": 12, "color": "#231f20", "align": "left", "baseline": "middle", "yOffset": -1}, "encoding": {"y": {"datum": "Thielemann2011", "type": "nominal", "scale": {"domain": ["Score","KeilberthFurtw1952","Furtwangler1953","Krauss1953","Solti1958","Karajan1966","Bohm1967","Swarowsky1968","Boulez1980","Janowski1980","Levine1987","Haitink1988","Sawallisch1989","Barenboim1991","Neuhold1993","Weigle2010","Thielemann2011"], "range": [72.4, 585.8], "paddingInner": 0.24, "paddingOuter": 0.12}, "axis": null}, "text": {"field": "t"}}},
{"data": {"values": [{"t": "Note events", "s": 23022}]}, "mark": {"type": "text", "font": "Liberation Sans", "fontSize": 12, "color": "#231f20", "align": "left", "baseline": "middle", "yOffset": -14}, "encoding": {"y": {"datum": "Thielemann2011", "type": "nominal", "scale": {"domain": ["Score","KeilberthFurtw1952","Furtwangler1953","Krauss1953","Solti1958","Karajan1966","Bohm1967","Swarowsky1968","Boulez1980","Janowski1980","Levine1987","Haitink1988","Sawallisch1989","Barenboim1991","Neuhold1993","Weigle2010","Thielemann2011"], "range": [72.4, 585.8], "paddingInner": 0.24, "paddingOuter": 0.12}, "axis": null}, "text": {"field": "t"}}},
{"data": {"values": [{"t": "Singing regions", "s": 23485}]}, "mark": {"type": "text", "font": "Liberation Sans", "fontSize": 12, "color": "#231f20", "align": "left", "baseline": "middle", "yOffset": -27}, "encoding": {"y": {"datum": "Thielemann2011", "type": "nominal", "scale": {"domain": ["Score","KeilberthFurtw1952","Furtwangler1953","Krauss1953","Solti1958","Karajan1966","Bohm1967","Swarowsky1968","Boulez1980","Janowski1980","Levine1987","Haitink1988","Sawallisch1989","Barenboim1991","Neuhold1993","Weigle2010","Thielemann2011"], "range": [72.4, 585.8], "paddingInner": 0.24, "paddingOuter": 0.12}, "axis": null}, "text": {"field": "t"}}},
{"data": {"values": [{"t": "Time sign. regions", "s": 23920}]}, "mark": {"type": "text", "font": "Liberation Sans", "fontSize": 12, "color": "#231f20", "align": "left", "baseline": "middle", "yOffset": -39}, "encoding": {"y": {"datum": "Thielemann2011", "type": "nominal", "scale": {"domain": ["Score","KeilberthFurtw1952","Furtwangler1953","Krauss1953","Solti1958","Karajan1966","Bohm1967","Swarowsky1968","Boulez1980","Janowski1980","Levine1987","Haitink1988","Sawallisch1989","Barenboim1991","Neuhold1993","Weigle2010","Thielemann2011"], "range": [72.4, 585.8], "paddingInner": 0.24, "paddingOuter": 0.12}, "axis": null}, "text": {"field": "t"}}},
{"data": {"values": [{"t": "Key sign. regions", "s": 24247}]}, "mark": {"type": "text", "font": "Liberation Sans", "fontSize": 12, "color": "#231f20", "align": "left", "baseline": "middle", "yOffset": -52}, "encoding": {"y": {"datum": "Thielemann2011", "type": "nominal", "scale": {"domain": ["Score","KeilberthFurtw1952","Furtwangler1953","Krauss1953","Solti1958","Karajan1966","Bohm1967","Swarowsky1968","Boulez1980","Janowski1980","Levine1987","Haitink1988","Sawallisch1989","Barenboim1991","Neuhold1993","Weigle2010","Thielemann2011"], "range": [72.4, 585.8], "paddingInner": 0.24, "paddingOuter": 0.12}, "axis": null}, "text": {"field": "t"}}},

{"data": {"name": "operas"}, "mark": {"type": "rect", "stroke": "#231f20", "strokeWidth": 2.5, "opacity": 1}, "encoding": {"x2": {"field": "e"}, "y": {"datum": "Opera", "type": "nominal", "scale": {"domain": ["Opera","Act","Scene"], "range": [640, 731.7], "paddingInner": 0, "paddingOuter": 0}, "axis": null}, "fill": {"condition": [{"test": "datum.o=='R'", "value": "#c6d9ef"}, {"test": "datum.o=='W'", "value": "#fdf0c9"}, {"test": "datum.o=='S'", "value": "#c4b2d6"}], "value": "#d1e1bf"}}},
{"data": {"name": "operas"}, "mark": {"type": "rect", "stroke": "#231f20", "strokeWidth": 2.5, "opacity": 1}, "encoding": {"x2": {"field": "e"}, "y": {"datum": "Act", "type": "nominal", "scale": {"domain": ["Opera","Act","Scene"], "range": [640, 731.7], "paddingInner": 0, "paddingOuter": 0}, "axis": null}, "fill": {"condition": [{"test": "datum.o=='R'", "value": "#c6d9ef"}, {"test": "datum.o=='W'", "value": "#fdf0c9"}, {"test": "datum.o=='S'", "value": "#c4b2d6"}], "value": "#d1e1bf"}}},
{"data": {"name": "operas"}, "mark": {"type": "rect", "stroke": "#231f20", "strokeWidth": 2.5, "opacity": 1}, "encoding": {"x2": {"field": "e"}, "y": {"datum": "Scene", "type": "nominal", "scale": {"domain": ["Opera","Act","Scene"], "range": [640, 731.7], "paddingInner": 0, "paddingOuter": 0}, "axis": null}, "fill": {"condition": [{"test": "datum.o=='R'", "value": "#c6d9ef"}, {"test": "datum.o=='W'", "value": "#fdf0c9"}, {"test": "datum.o=='S'", "value": "#c4b2d6"}], "value": "#d1e1bf"}}},
{"data": {"name": "scenes"}, "mark": {"type": "tick", "color": "#3a3a3a", "thickness": 1.3, "size": 29, "opacity": 1}, "encoding": {"y": {"datum": "Scene", "type": "nominal", "scale": {"domain": ["Opera","Act","Scene"], "range": [640, 731.7], "paddingInner": 0, "paddingOuter": 0}, "axis": null}}},
{"data": {"name": "actlines"}, "mark": {"type": "tick", "color": "#ed1c24", "thickness": 2.8, "size": 31, "opacity": 1}, "encoding": {"y": {"datum": "Act", "type": "nominal", "scale": {"domain": ["Opera","Act","Scene"], "range": [640, 731.7], "paddingInner": 0, "paddingOuter": 0}, "axis": null}}},
{"data": {"name": "actlines"}, "mark": {"type": "tick", "color": "#ed1c24", "thickness": 2.8, "size": 29, "opacity": 1}, "encoding": {"y": {"datum": "Scene", "type": "nominal", "scale": {"domain": ["Opera","Act","Scene"], "range": [640, 731.7], "paddingInner": 0, "paddingOuter": 0}, "axis": null}}},
{"data": {"name": "operas"}, "transform": [{"filter": "datum.s > 0"}], "mark": {"type": "tick", "color": "#231f20", "thickness": 5.5, "size": 92, "opacity": 1}, "encoding": {"y": {"datum": "Act", "type": "nominal", "scale": {"domain": ["Opera","Act","Scene"], "range": [640, 731.7], "paddingInner": 0, "paddingOuter": 0}, "axis": null}}},
{"data": {"name": "operas"}, "transform": [{"fold": ["s", "e"], "as": ["b", "p"]}], "mark": {"type": "text", "font": "Liberation Sans", "fontWeight": "bold", "fontSize": 17, "color": "#231f20", "align": "center", "baseline": "middle"}, "encoding": {"x": {"aggregate": "mean", "field": "p", "type": "quantitative", "scale": {"domain": [0, 21934], "nice": false, "zero": false}, "axis": null}, "y": {"datum": "Opera", "type": "nominal", "scale": {"domain": ["Opera","Act","Scene"], "range": [640, 731.7], "paddingInner": 0, "paddingOuter": 0}, "axis": null}, "text": {"field": "name"}}},
{"data": {"name": "acts"}, "transform": [{"fold": ["s", "e"], "as": ["b", "p"]}], "mark": {"type": "text", "font": "Liberation Sans", "fontWeight": "bold", "fontSize": 12.5, "color": "#231f20", "align": "center", "baseline": "middle"}, "encoding": {"x": {"aggregate": "mean", "field": "p", "type": "quantitative", "scale": {"domain": [0, 21934], "nice": false, "zero": false}, "axis": null}, "y": {"datum": "Act", "type": "nominal", "scale": {"domain": ["Opera","Act","Scene"], "range": [640, 731.7], "paddingInner": 0, "paddingOuter": 0}, "axis": null}, "text": {"field": "a"}}},
{"data": {"values": [{"lane": "Opera", "s": 0}, {"lane": "Act", "s": 0}, {"lane": "Scene", "s": 0}]}, "mark": {"type": "text", "font": "Lato", "fontStyle": "italic", "fontSize": 21, "color": "#231f20", "align": "right", "baseline": "middle", "dx": -20}, "encoding": {"y": {"field": "lane", "type": "nominal", "scale": {"domain": ["Opera","Act","Scene"], "range": [640, 731.7], "paddingInner": 0, "paddingOuter": 0}, "axis": null}, "text": {"field": "lane"}}},
{"data": {"name": "xticks"}, "mark": {"type": "tick", "color": "#231f20", "thickness": 1, "size": 4, "opacity": 1, "yOffset": 17.3}, "encoding": {"y": {"datum": "Scene", "type": "nominal", "scale": {"domain": ["Opera","Act","Scene"], "range": [640, 731.7], "paddingInner": 0, "paddingOuter": 0}, "axis": null}}},
{"data": {"name": "xticks"}, "mark": {"type": "text", "font": "Liberation Sans", "fontSize": 17, "color": "#231f20", "align": "center", "baseline": "middle", "yOffset": 32}, "encoding": {"y": {"datum": "Scene", "type": "nominal", "scale": {"domain": ["Opera","Act","Scene"], "range": [640, 731.7], "paddingInner": 0, "paddingOuter": 0}, "axis": null}, "text": {"field": "s", "type": "quantitative", "format": "d"}}},
{"data": {"values": [{"t": "Time (measures)", "s": 10572}]}, "mark": {"type": "text", "font": "Liberation Sans", "fontSize": 18, "color": "#231f20", "align": "center", "baseline": "middle", "yOffset": 58.6}, "encoding": {"y": {"datum": "Scene", "type": "nominal", "scale": {"domain": ["Opera","Act","Scene"], "range": [640, 731.7], "paddingInner": 0, "paddingOuter": 0}, "axis": null}, "text": {"field": "t"}}}
]
}
